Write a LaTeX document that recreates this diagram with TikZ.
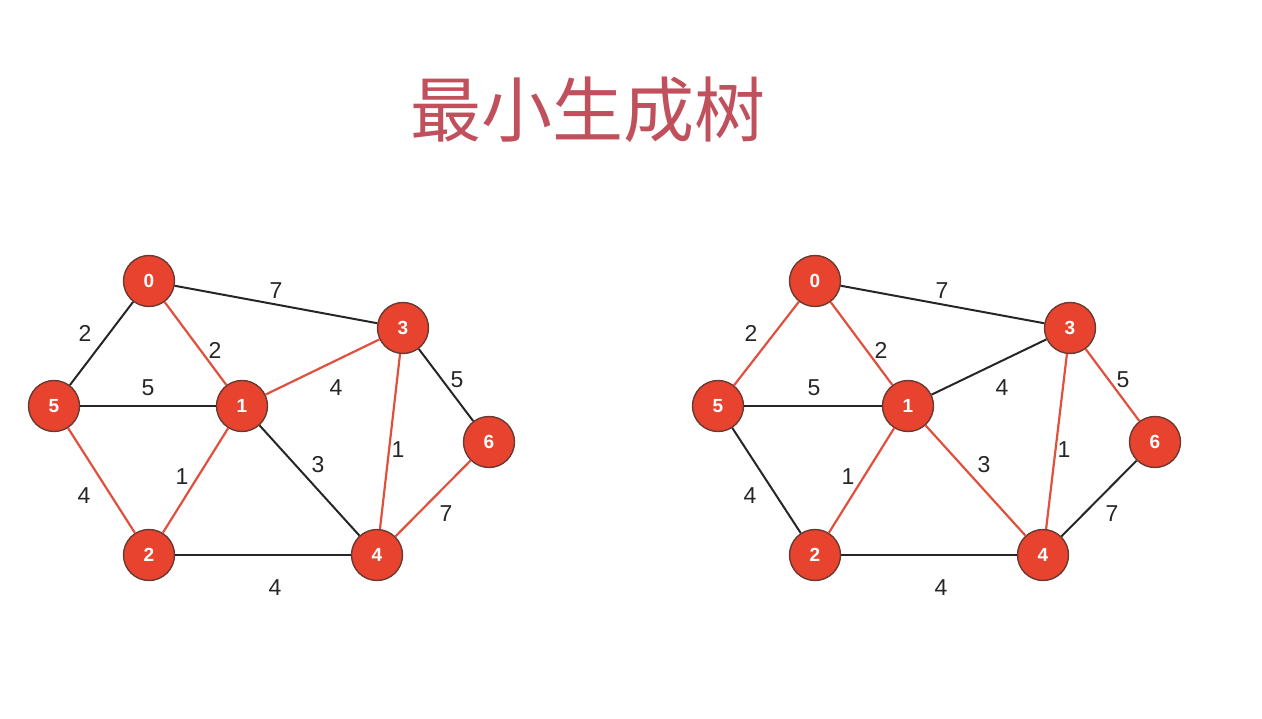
\documentclass[tikz,border=0pt]{standalone}
\usepackage{fontspec}
\setmainfont{Liberation Sans}
\newfontfamily\cjk{Noto Sans CJK SC}
\definecolor{nodefill}{HTML}{E8432E}
\definecolor{noderim}{HTML}{6A3A32}
\definecolor{rededge}{HTML}{E0503C}
\definecolor{titlecol}{HTML}{C0505C}
\begin{document}
\begin{tikzpicture}[x=1pt,y=-1pt,
  vert/.style={circle,fill=nodefill,draw=noderim,line width=1.4pt,minimum size=51pt,inner sep=0pt,text=white,font=\fontsize{19}{19}\selectfont\bfseries},
  blk/.style={draw=black!85,line width=2pt},
  red/.style={draw=rededge,line width=2.2pt},
  wt/.style={font=\fontsize{23}{23}\selectfont,text=black!85}]
\useasboundingbox (0,0) rectangle (1262,719);
\node[text=titlecol,font=\cjk\fontsize{71}{71}\selectfont] (title) at (588,110) {最小生成树};
% left graph
\node[vert] (a0) at (149,281) {0};
\node[vert] (a5) at (54,406) {5};
\node[vert] (a1) at (242,406) {1};
\node[vert] (a3) at (403,328) {3};
\node[vert] (a6) at (489,442) {6};
\node[vert] (a2) at (149,555) {2};
\node[vert] (a4) at (377,555) {4};
% right graph
\node[vert] (b0) at (815,281) {0};
\node[vert] (b5) at (718,406) {5};
\node[vert] (b1) at (908,406) {1};
\node[vert] (b3) at (1070,328) {3};
\node[vert] (b6) at (1155,442) {6};
\node[vert] (b2) at (815,555) {2};
\node[vert] (b4) at (1043,555) {4};
% left edges
\draw[red] (a0) -- (a1);
\draw[red] (a1) -- (a3);
\draw[red] (a3) -- (a4);
\draw[red] (a5) -- (a2);
\draw[red] (a1) -- (a2);
\draw[red] (a4) -- (a6);
\draw[blk] (a0) -- (a5);
\draw[blk] (a0) -- (a3);
\draw[blk] (a5) -- (a1);
\draw[blk] (a3) -- (a6);
\draw[blk] (a1) -- (a4);
\draw[blk] (a2) -- (a4);
% right edges
\draw[red] (b0) -- (b5);
\draw[red] (b0) -- (b1);
\draw[red] (b1) -- (b2);
\draw[red] (b1) -- (b4);
\draw[red] (b3) -- (b4);
\draw[red] (b3) -- (b6);
\draw[blk] (b0) -- (b3);
\draw[blk] (b5) -- (b1);
\draw[blk] (b1) -- (b3);
\draw[blk] (b5) -- (b2);
\draw[blk] (b2) -- (b4);
\draw[blk] (b4) -- (b6);
% left weights
\node[wt] (la03) at (276,291) {7};
\node[wt] (la05) at (85,333) {2};
\node[wt] (la01) at (215,350) {2};
\node[wt] (la51) at (148,388) {5};
\node[wt] (la13) at (336,388) {4};
\node[wt] (la36) at (457,380) {5};
\node[wt] (la12) at (182,477) {1};
\node[wt] (la14) at (318,465) {3};
\node[wt] (la34) at (398,450) {1};
\node[wt] (la52) at (84,496) {4};
\node[wt] (la46) at (446,514) {7};
\node[wt] (la24) at (275,588) {4};
% right weights
\node[wt] (lb03) at (942,291) {7};
\node[wt] (lb05) at (751,333) {2};
\node[wt] (lb01) at (881,350) {2};
\node[wt] (lb51) at (814,388) {5};
\node[wt] (lb13) at (1002,388) {4};
\node[wt] (lb36) at (1123,380) {5};
\node[wt] (lb12) at (848,477) {1};
\node[wt] (lb14) at (984,465) {3};
\node[wt] (lb34) at (1064,450) {1};
\node[wt] (lb52) at (750,496) {4};
\node[wt] (lb46) at (1112,514) {7};
\node[wt] (lb24) at (941,588) {4};
\end{tikzpicture}
\end{document}
